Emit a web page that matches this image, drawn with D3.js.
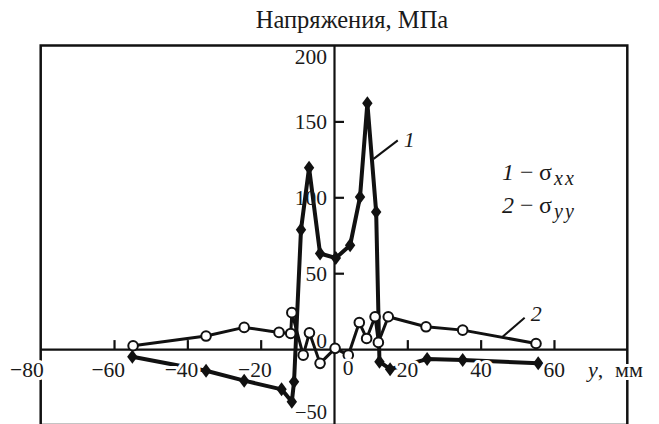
<!DOCTYPE html>
<html>
<head>
<meta charset="utf-8">
<script src="https://cdn.jsdelivr.net/npm/d3@7"></script>
<style>
body { margin: 0; background: #fff; }
text { font-family: "Liberation Serif", "Times New Roman", serif; fill: #1a1a1a; }
</style>
</head>
<body>
<div id="chart"></div>
<script>
// curve 1: sigma_xx (filled diamonds)
const sxx_y_mm = [-55, -34.9, -24.5, -14.3, -11.5, -10.9, -9, -6.8, -3.8, 0.5, 4.4, 7.1, 9.1, 11.5, 12.4, 15.3, 25.4, 35.1, 55.7];
const sxx_mpa  = [-5, -14.3, -20.8, -26.5, -34.7, -21.5, 78.7, 119.5, 63, 60, 68.4, 100.2, 162, 90.3, -8.3, -13.2, -6.6, -7.2, -9.4];

// curve 2: sigma_yy (open circles)
const syy_y_mm = [-54.8, -34.9, -24.5, -15, -11.8, -11.5, -8.4, -6.7, -3.8, 0.3, 3.9, 6.9, 8.9, 11.2, 12.1, 14.8, 25.1, 35.1, 55.1];
const syy_mpa  = [2.2, 8.6, 14.3, 11, 10.3, 24, -4, 10.7, -9.4, 0.5, -4, 17.5, 7, 21.3, 4.4, 21.3, 14.7, 12.5, 3.7];

const xTicks = [-60, -40, -20, 20, 40, 60];
const xLabels = [-80, -60, -40, -20, 0, 20, 40, 60];
const yTicks = [50, 100, 150];
const yLabels = [-50, 0, 50, 100, 150, 200];

const width = 659, height = 424;

const x = d3.scaleLinear().domain([-80, 80]).range([40.7, 627.3]);
const y = d3.scaleLinear().domain([-50, 200]).range([425, 45.5]);

const svg = d3.select("#chart").append("svg")
	.attr("width", width)
	.attr("height", height);

svg.append("rect").attr("width", width).attr("height", height).attr("fill", "#fff");

// title
svg.append("text")
	.attr("x", 352).attr("y", 28)
	.attr("text-anchor", "middle")
	.attr("font-size", 24.5)
	.text("Напряжения, МПа");

// frame
svg.append("rect")
	.attr("x", x(-80)).attr("y", y(200))
	.attr("width", x(80) - x(-80)).attr("height", y(-50) - y(200))
	.attr("fill", "none").attr("stroke", "#111").attr("stroke-width", 2.5);

// x axis (ticks point up, into the plot)
const xAxis = d3.axisBottom(x).tickValues(xTicks).tickSizeInner(-9).tickSizeOuter(0).tickFormat("");
svg.append("g")
	.attr("transform", `translate(0,${y(0)})`)
	.call(xAxis)
	.call(g => g.selectAll("path, line").attr("stroke", "#111").attr("stroke-width", 2.2));

// y axis (ticks point right)
const yAxis = d3.axisLeft(y).tickValues(yTicks).tickSizeInner(-10).tickSizeOuter(0).tickFormat("");
svg.append("g")
	.attr("transform", `translate(${x(0)},0)`)
	.call(yAxis)
	.call(g => g.selectAll("path, line").attr("stroke", "#111").attr("stroke-width", 2.2));

// series
const s1 = sxx_y_mm.map((v, i) => ({x: v, y: sxx_mpa[i]}));
const s2 = syy_y_mm.map((v, i) => ({x: v, y: syy_mpa[i]}));

const line = d3.line().x(d => x(d.x)).y(d => y(d.y));

svg.append("path").datum(s2)
	.attr("d", line).attr("fill", "none")
	.attr("stroke", "#111").attr("stroke-width", 3).attr("stroke-linejoin", "round");

svg.append("path").datum(s1)
	.attr("d", line).attr("fill", "none")
	.attr("stroke", "#111").attr("stroke-width", 4).attr("stroke-linejoin", "round");

svg.selectAll(".dia").data(s1).join("path")
	.attr("class", "dia")
	.attr("d", d => {
		const cx = x(d.x), cy = y(d.y);
		return `M${cx},${cy - 7}L${cx + 5.2},${cy}L${cx},${cy + 7}L${cx - 5.2},${cy}Z`;
	})
	.attr("fill", "#111");

svg.selectAll(".circ").data(s2).join("circle")
	.attr("class", "circ")
	.attr("cx", d => x(d.x)).attr("cy", d => y(d.y))
	.attr("r", 4.8)
	.attr("fill", "#fff").attr("stroke", "#111").attr("stroke-width", 2);

// curve callouts
const callouts = [
	{label: "1", from: [10.8, 125.3], to: [17.4, 137.5], dy: 7},
	{label: "2", from: [45.9, 8.0], to: [52, 20.6], dy: 3}
];
callouts.forEach(c => {
	svg.append("line")
		.attr("x1", x(c.from[0])).attr("y1", y(c.from[1]))
		.attr("x2", x(c.to[0])).attr("y2", y(c.to[1]))
		.attr("stroke", "#111").attr("stroke-width", 2);
	svg.append("text")
		.attr("x", x(c.to[0]) + 6).attr("y", y(c.to[1]) + c.dy)
		.attr("font-size", 22).attr("font-style", "italic")
		.text(c.label);
});

// tick labels with white knock-out behind them
const halo = sel => sel.attr("stroke", "#fff").attr("stroke-width", 6)
	.attr("stroke-linejoin", "round").attr("paint-order", "stroke");

const fmt = d3.format("d");

svg.selectAll(".xlab").data(xLabels).join("text")
	.attr("class", "xlab")
	.attr("font-size", 21.5)
	.attr("x", d => d === 0 ? x(0) + 14 : (d === -80 ? x(d) + 3 : x(d) + 11))
	.attr("y", d => y(0) + (d === 0 ? 26 : 28))
	.attr("text-anchor", d => d === 0 ? "middle" : "end")
	.text(d => fmt(d))
	.call(halo);

svg.selectAll(".ylab").data(yLabels).join("text")
	.attr("class", "ylab")
	.attr("font-size", d => d < 0 ? 20.5 : 21.5)
	.attr("x", x(0) - 7)
	.attr("y", d => y(d) + (d === 200 ? 11 : (d === 0 ? -9 : (d < 0 ? -13 : 0))))
	.attr("dy", "0.35em")
	.attr("text-anchor", "end")
	.attr("fill", d => d === 0 ? "#777" : "#1a1a1a")
	.text(d => fmt(d));

// axis name on the right
svg.append("text")
	.attr("y", 377)
	.attr("font-size", 22)
	.call(halo)
	.call(t => {
		t.append("tspan").attr("x", 588).attr("font-style", "italic").text("y");
		t.append("tspan").text(",");
		t.append("tspan").attr("x", 615).text("мм");
	});

// legend
const legend = [
	{num: "1", sub: "xx", y: 180},
	{num: "2", sub: "yy", y: 213}
];
legend.forEach(l => {
	const t = svg.append("text").attr("y", l.y).attr("font-size", 24);
	t.append("tspan").attr("x", 502).attr("font-style", "italic").text(l.num);
	t.append("tspan").attr("x", 520).text("−");
	t.append("tspan").attr("x", 539).text("σ");
	t.append("tspan").attr("x", 554).attr("dy", 5).attr("font-size", 20)
		.attr("font-style", "italic").attr("letter-spacing", 2).text(l.sub);
});
</script>
</body>
</html>
